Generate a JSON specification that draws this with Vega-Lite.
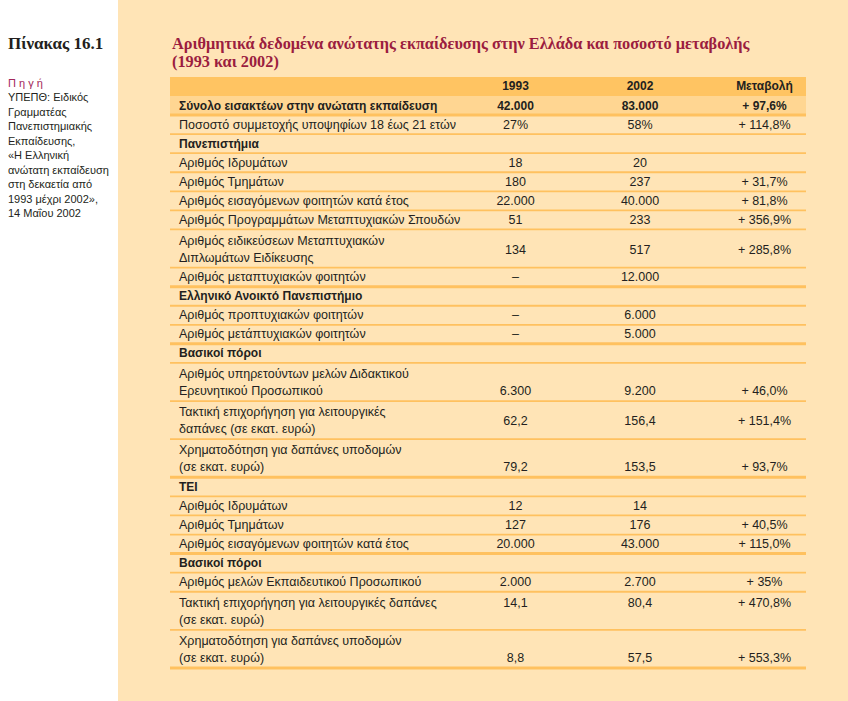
{
  "$schema": "https://vega.github.io/schema/vega-lite/v6.json",
  "width": 848,
  "height": 701,
  "autosize": {"type": "none"},
  "padding": 0,
  "background": "white",
  "config": {"view": {"stroke": null}},
  "resolve": {"scale": {"x": "independent", "y": "independent"}},
  "datasets": {
    "source": [
      {"k": 0, "t": "Π η γ ή"},
      {"k": 1, "t": "ΥΠΕΠΘ: Ειδικός"},
      {"k": 2, "t": "Γραμματέας"},
      {"k": 3, "t": "Πανεπιστημιακής"},
      {"k": 4, "t": "Εκπαίδευσης,"},
      {"k": 5, "t": "«Η Ελληνική"},
      {"k": 6, "t": "ανώτατη εκπαίδευση"},
      {"k": 7, "t": "στη δεκαετία από"},
      {"k": 8, "t": "1993 μέχρι 2002»,"},
      {"k": 9, "t": "14 Μαΐου 2002"}
    ],
    "rows": [
      {"i": 1, "label": "Σύνολο εισακτέων στην ανώτατη εκπαίδευση", "c1993": "42.000", "c2002": "83.000", "chg": "+ 97,6%", "kind": "total", "n": 1, "va": "first", "last": 1},
      {"i": 2, "label": "Ποσοστό συμμετοχής υποψηφίων 18 έως 21 ετών", "c1993": "27%", "c2002": "58%", "chg": "+ 114,8%", "kind": "item", "n": 1, "va": "first", "last": 0},
      {"i": 3, "label": "Πανεπιστήμια", "kind": "section", "n": 1, "va": "first", "last": 0},
      {"i": 4, "label": "Αριθμός Ιδρυμάτων", "c1993": "18", "c2002": "20", "kind": "item", "n": 1, "va": "first", "last": 0},
      {"i": 5, "label": "Αριθμός Τμημάτων", "c1993": "180", "c2002": "237", "chg": "+ 31,7%", "kind": "item", "n": 1, "va": "first", "last": 0},
      {"i": 6, "label": "Αριθμός εισαγόμενων φοιτητών κατά έτος", "c1993": "22.000", "c2002": "40.000", "chg": "+ 81,8%", "kind": "item", "n": 1, "va": "first", "last": 0},
      {"i": 7, "label": "Αριθμός Προγραμμάτων Μεταπτυχιακών Σπουδών", "c1993": "51", "c2002": "233", "chg": "+ 356,9%", "kind": "item", "n": 1, "va": "first", "last": 0},
      {"i": 8, "label": "Αριθμός ειδικεύσεων Μεταπτυχιακών", "label2": "Διπλωμάτων Ειδίκευσης", "c1993": "134", "c2002": "517", "chg": "+ 285,8%", "kind": "item", "n": 2, "va": "mid", "last": 0},
      {"i": 9, "label": "Αριθμός μεταπτυχιακών φοιτητών", "c1993": "–", "c2002": "12.000", "kind": "item", "n": 1, "va": "first", "last": 1},
      {"i": 10, "label": "Ελληνικό Ανοικτό Πανεπιστήμιο", "kind": "section", "n": 1, "va": "first", "last": 0},
      {"i": 11, "label": "Αριθμός προπτυχιακών φοιτητών", "c1993": "–", "c2002": "6.000", "kind": "item", "n": 1, "va": "first", "last": 0},
      {"i": 12, "label": "Αριθμός μετάπτυχιακών φοιτητών", "c1993": "–", "c2002": "5.000", "kind": "item", "n": 1, "va": "first", "last": 1},
      {"i": 13, "label": "Βασικοί πόροι", "kind": "section", "n": 1, "va": "first", "last": 0},
      {"i": 14, "label": "Αριθμός υπηρετούντων μελών Διδακτικού", "label2": "Ερευνητικού Προσωπικού", "c1993": "6.300", "c2002": "9.200", "chg": "+ 46,0%", "kind": "item", "n": 2, "va": "last", "last": 0},
      {"i": 15, "label": "Τακτική επιχορήγηση για λειτουργικές", "label2": "δαπάνες (σε εκατ. ευρώ)", "c1993": "62,2", "c2002": "156,4", "chg": "+ 151,4%", "kind": "item", "n": 2, "va": "mid", "last": 0},
      {"i": 16, "label": "Χρηματοδότηση για δαπάνες υποδομών", "label2": "(σε εκατ. ευρώ)", "c1993": "79,2", "c2002": "153,5", "chg": "+ 93,7%", "kind": "item", "n": 2, "va": "last", "last": 1},
      {"i": 17, "label": "ΤΕΙ", "kind": "section", "n": 1, "va": "first", "last": 0},
      {"i": 18, "label": "Αριθμός Ιδρυμάτων", "c1993": "12", "c2002": "14", "kind": "item", "n": 1, "va": "first", "last": 0},
      {"i": 19, "label": "Αριθμός Τμημάτων", "c1993": "127", "c2002": "176", "chg": "+ 40,5%", "kind": "item", "n": 1, "va": "first", "last": 0},
      {"i": 20, "label": "Αριθμός εισαγόμενων φοιτητών κατά έτος", "c1993": "20.000", "c2002": "43.000", "chg": "+ 115,0%", "kind": "item", "n": 1, "va": "first", "last": 1},
      {"i": 21, "label": "Βασικοί πόροι", "kind": "section", "n": 1, "va": "first", "last": 0},
      {"i": 22, "label": "Αριθμός μελών Εκπαιδευτικού Προσωπικού", "c1993": "2.000", "c2002": "2.700", "chg": "+ 35%", "kind": "item", "n": 1, "va": "first", "last": 0},
      {"i": 23, "label": "Τακτική επιχορήγηση για λειτουργικές δαπάνες", "label2": "(σε εκατ. ευρώ)", "c1993": "14,1", "c2002": "80,4", "chg": "+ 470,8%", "kind": "item", "n": 2, "va": "first", "last": 0},
      {"i": 24, "label": "Χρηματοδότηση για δαπάνες υποδομών", "label2": "(σε εκατ. ευρώ)", "c1993": "8,8", "c2002": "57,5", "chg": "+ 553,3%", "kind": "item", "n": 2, "va": "last", "last": 1}
    ]
  },
  "layer": [
    {
      "data": {"values": [{"panel": "table"}]},
      "mark": {"type": "rect", "color": "#ffe4b6"},
      "encoding": {
        "x": {"datum": 0, "type": "quantitative", "axis": null, "scale": {"domain": [0, 1], "range": [118, 848], "zero": false, "nice": false}},
        "x2": {"datum": 1},
        "y": {"datum": 0, "type": "quantitative", "axis": null, "scale": {"domain": [0, 1], "range": [0, 701], "zero": false, "nice": false}},
        "y2": {"datum": 1}
      }
    },
    {
      "data": {"values": [{"t": "Πίνακας 16.1"}]},
      "mark": {"type": "text", "align": "left", "baseline": "middle", "font": "Liberation Serif", "fontWeight": "bold", "fontSize": 17, "color": "#231f20"},
      "encoding": {
        "x": {"datum": 0, "type": "quantitative", "axis": null, "scale": {"domain": [0, 1], "range": [8, 118], "zero": false, "nice": false}},
        "y": {"datum": -2.7, "type": "quantitative", "axis": null, "scale": {"domain": [0, 9], "range": [83.5, 214], "zero": false, "nice": false}},
        "text": {"field": "t"}
      }
    },
    {
      "data": {"name": "source"},
      "transform": [{"filter": "datum.k == 0"}],
      "mark": {"type": "text", "align": "left", "baseline": "middle", "font": "Liberation Sans", "fontSize": 11, "color": "#a3285a"},
      "encoding": {
        "x": {"datum": 0, "type": "quantitative", "axis": null, "scale": {"domain": [0, 1], "range": [8, 118], "zero": false, "nice": false}},
        "y": {"field": "k", "type": "quantitative", "axis": null, "scale": {"domain": [0, 9], "range": [83.5, 214], "zero": false, "nice": false}},
        "text": {"field": "t"}
      }
    },
    {
      "data": {"name": "source"},
      "transform": [{"filter": "datum.k > 0"}],
      "mark": {"type": "text", "align": "left", "baseline": "middle", "font": "Liberation Sans", "fontSize": 11, "color": "#231f20"},
      "encoding": {
        "x": {"datum": 0, "type": "quantitative", "axis": null, "scale": {"domain": [0, 1], "range": [8, 118], "zero": false, "nice": false}},
        "y": {"field": "k", "type": "quantitative", "axis": null, "scale": {"domain": [0, 9], "range": [83.5, 214], "zero": false, "nice": false}},
        "text": {"field": "t"}
      }
    },
    {
      "data": {"values": [{"part": "header"}]},
      "mark": {"type": "rect", "color": "#ffc462"},
      "encoding": {
        "x": {"datum": 0, "type": "quantitative", "axis": null, "scale": {"domain": [0, 1], "range": [170, 806], "zero": false, "nice": false}},
        "x2": {"datum": 1},
        "y": {"datum": -1, "type": "quantitative", "axis": null, "scale": {"domain": [0, 30], "range": [96, 668], "zero": false, "nice": false}},
        "y2": {"datum": 0}
      }
    },
    {
      "data": {"name": "rows"},
      "transform": [
        {"window": [{"op": "sum", "field": "n", "as": "bot"}], "sort": [{"field": "i"}], "frame": [null, 0]},
        {"filter": "datum.kind == 'total'"}
      ],
      "mark": {"type": "rect", "color": "#ffd692"},
      "encoding": {
        "x": {"datum": 0, "type": "quantitative", "axis": null, "scale": {"domain": [0, 1], "range": [170, 806], "zero": false, "nice": false}},
        "x2": {"datum": 1},
        "y": {"field": "bot", "type": "quantitative", "axis": null, "scale": {"domain": [0, 30], "range": [96, 668], "zero": false, "nice": false}},
        "y2": {"datum": 0}
      }
    },
    {
      "data": {"name": "rows"},
      "transform": [
        {"window": [{"op": "sum", "field": "n", "as": "bot"}], "sort": [{"field": "i"}], "frame": [null, 0]},
        {"filter": "datum.last == 0"}
      ],
      "mark": {"type": "rule", "color": "#ffc15f", "strokeWidth": 1.8},
      "encoding": {
        "x": {"datum": 0, "type": "quantitative", "axis": null, "scale": {"domain": [0, 1], "range": [170, 806], "zero": false, "nice": false}},
        "x2": {"datum": 1},
        "y": {"field": "bot", "type": "quantitative", "axis": null, "scale": {"domain": [0, 30], "range": [96, 668], "zero": false, "nice": false}}
      }
    },
    {
      "data": {"name": "rows"},
      "transform": [
        {"window": [{"op": "sum", "field": "n", "as": "bot"}], "sort": [{"field": "i"}], "frame": [null, 0]},
        {"filter": "datum.last == 1"}
      ],
      "mark": {"type": "rule", "color": "#ffc15f", "strokeWidth": 3},
      "encoding": {
        "x": {"datum": 0, "type": "quantitative", "axis": null, "scale": {"domain": [0, 1], "range": [170, 806], "zero": false, "nice": false}},
        "x2": {"datum": 1},
        "y": {"field": "bot", "type": "quantitative", "axis": null, "scale": {"domain": [0, 30], "range": [96, 668], "zero": false, "nice": false}}
      }
    },
    {
      "data": {"values": [{"col": "c1993", "t": "1993"}, {"col": "c2002", "t": "2002"}, {"col": "chg", "t": "Μεταβολή"}]},
      "mark": {"type": "text", "align": "center", "baseline": "middle", "font": "Liberation Sans", "fontWeight": "bold", "fontSize": 12, "color": "#231f20"},
      "encoding": {
        "x": {"field": "col", "type": "nominal", "axis": null, "scale": {"type": "point", "domain": ["label", "c1993", "c2002", "chg"], "range": [391, 764.5], "padding": 0}},
        "y": {"datum": -0.5, "type": "quantitative", "axis": null, "scale": {"domain": [0, 30], "range": [96, 668], "zero": false, "nice": false}},
        "text": {"field": "t"}
      }
    },
    {
      "data": {"values": [{"k": 0, "line": "Αριθμητικά δεδομένα ανώτατης εκπαίδευσης στην Ελλάδα και ποσοστό μεταβολής"}, {"k": 1, "line": "(1993 και 2002)"}]},
      "mark": {"type": "text", "align": "left", "baseline": "middle", "font": "Liberation Serif", "fontWeight": "bold", "fontSize": 16.3, "color": "#9b1d3f"},
      "encoding": {
        "x": {"datum": 0, "type": "quantitative", "axis": null, "scale": {"domain": [0, 1], "range": [172, 848], "zero": false, "nice": false}},
        "y": {"field": "k", "type": "quantitative", "axis": null, "scale": {"domain": [0, 1], "range": [44, 62], "zero": false, "nice": false}},
        "text": {"field": "line"}
      }
    },
    {
      "data": {"name": "rows"},
      "transform": [
        {"window": [{"op": "sum", "field": "n", "as": "bot"}], "sort": [{"field": "i"}], "frame": [null, 0]},
        {"filter": "datum.n == 1 && datum.kind == 'item'"}
      ],
      "mark": {"type": "text", "align": "left", "baseline": "middle", "font": "Liberation Sans", "fontSize": 12.5, "color": "#231f20"},
      "encoding": {
        "x": {"datum": 0, "type": "quantitative", "axis": null, "scale": {"domain": [0, 1], "range": [179, 848], "zero": false, "nice": false}},
        "y": {"field": "bot", "type": "quantitative", "axis": null, "scale": {"domain": [0, 30], "range": [86.5, 658.5], "zero": false, "nice": false}},
        "text": {"field": "label"}
      }
    },
    {
      "data": {"name": "rows"},
      "transform": [
        {"window": [{"op": "sum", "field": "n", "as": "bot"}], "sort": [{"field": "i"}], "frame": [null, 0]},
        {"filter": "datum.kind != 'item'"}
      ],
      "mark": {"type": "text", "align": "left", "baseline": "middle", "font": "Liberation Sans", "fontWeight": "bold", "fontSize": 12, "color": "#231f20"},
      "encoding": {
        "x": {"datum": 0, "type": "quantitative", "axis": null, "scale": {"domain": [0, 1], "range": [179, 848], "zero": false, "nice": false}},
        "y": {"field": "bot", "type": "quantitative", "axis": null, "scale": {"domain": [0, 30], "range": [86.5, 658.5], "zero": false, "nice": false}},
        "text": {"field": "label"}
      }
    },
    {
      "data": {"name": "rows"},
      "transform": [
        {"window": [{"op": "sum", "field": "n", "as": "bot"}], "sort": [{"field": "i"}], "frame": [null, 0]},
        {"filter": "datum.n == 2"}
      ],
      "mark": {"type": "text", "align": "left", "baseline": "middle", "font": "Liberation Sans", "fontSize": 12.5, "color": "#231f20"},
      "encoding": {
        "x": {"datum": 0, "type": "quantitative", "axis": null, "scale": {"domain": [0, 1], "range": [179, 848], "zero": false, "nice": false}},
        "y": {"field": "bot", "type": "quantitative", "axis": null, "scale": {"domain": [0, 30], "range": [69, 641], "zero": false, "nice": false}},
        "text": {"field": "label"}
      }
    },
    {
      "data": {"name": "rows"},
      "transform": [
        {"window": [{"op": "sum", "field": "n", "as": "bot"}], "sort": [{"field": "i"}], "frame": [null, 0]},
        {"filter": "datum.n == 2"}
      ],
      "mark": {"type": "text", "align": "left", "baseline": "middle", "font": "Liberation Sans", "fontSize": 12.5, "color": "#231f20"},
      "encoding": {
        "x": {"datum": 0, "type": "quantitative", "axis": null, "scale": {"domain": [0, 1], "range": [179, 848], "zero": false, "nice": false}},
        "y": {"field": "bot", "type": "quantitative", "axis": null, "scale": {"domain": [0, 30], "range": [86, 658], "zero": false, "nice": false}},
        "text": {"field": "label2"}
      }
    },
    {
      "data": {"name": "rows"},
      "transform": [
        {"window": [{"op": "sum", "field": "n", "as": "bot"}], "sort": [{"field": "i"}], "frame": [null, 0]},
        {"fold": ["c1993", "c2002", "chg"], "as": ["col", "val"]},
        {"filter": "datum.val != null && datum.kind == 'total'"}
      ],
      "mark": {"type": "text", "align": "center", "baseline": "middle", "font": "Liberation Sans", "fontWeight": "bold", "fontSize": 12, "color": "#231f20"},
      "encoding": {
        "x": {"field": "col", "type": "nominal", "axis": null, "scale": {"type": "point", "domain": ["label", "c1993", "c2002", "chg"], "range": [391, 764.5], "padding": 0}},
        "y": {"field": "bot", "type": "quantitative", "axis": null, "scale": {"domain": [0, 30], "range": [86.5, 658.5], "zero": false, "nice": false}},
        "text": {"field": "val"}
      }
    },
    {
      "data": {"name": "rows"},
      "transform": [
        {"window": [{"op": "sum", "field": "n", "as": "bot"}], "sort": [{"field": "i"}], "frame": [null, 0]},
        {"fold": ["c1993", "c2002", "chg"], "as": ["col", "val"]},
        {"filter": "datum.val != null && datum.kind == 'item' && datum.n == 1"}
      ],
      "mark": {"type": "text", "align": "center", "baseline": "middle", "font": "Liberation Sans", "fontSize": 12.5, "color": "#231f20"},
      "encoding": {
        "x": {"field": "col", "type": "nominal", "axis": null, "scale": {"type": "point", "domain": ["label", "c1993", "c2002", "chg"], "range": [391, 764.5], "padding": 0}},
        "y": {"field": "bot", "type": "quantitative", "axis": null, "scale": {"domain": [0, 30], "range": [86.5, 658.5], "zero": false, "nice": false}},
        "text": {"field": "val"}
      }
    },
    {
      "data": {"name": "rows"},
      "transform": [
        {"window": [{"op": "sum", "field": "n", "as": "bot"}], "sort": [{"field": "i"}], "frame": [null, 0]},
        {"fold": ["c1993", "c2002", "chg"], "as": ["col", "val"]},
        {"filter": "datum.val != null && datum.n == 2 && datum.va == 'first'"}
      ],
      "mark": {"type": "text", "align": "center", "baseline": "middle", "font": "Liberation Sans", "fontSize": 12.5, "color": "#231f20"},
      "encoding": {
        "x": {"field": "col", "type": "nominal", "axis": null, "scale": {"type": "point", "domain": ["label", "c1993", "c2002", "chg"], "range": [391, 764.5], "padding": 0}},
        "y": {"field": "bot", "type": "quantitative", "axis": null, "scale": {"domain": [0, 30], "range": [69, 641], "zero": false, "nice": false}},
        "text": {"field": "val"}
      }
    },
    {
      "data": {"name": "rows"},
      "transform": [
        {"window": [{"op": "sum", "field": "n", "as": "bot"}], "sort": [{"field": "i"}], "frame": [null, 0]},
        {"fold": ["c1993", "c2002", "chg"], "as": ["col", "val"]},
        {"filter": "datum.val != null && datum.va == 'mid'"}
      ],
      "mark": {"type": "text", "align": "center", "baseline": "middle", "font": "Liberation Sans", "fontSize": 12.5, "color": "#231f20"},
      "encoding": {
        "x": {"field": "col", "type": "nominal", "axis": null, "scale": {"type": "point", "domain": ["label", "c1993", "c2002", "chg"], "range": [391, 764.5], "padding": 0}},
        "y": {"field": "bot", "type": "quantitative", "axis": null, "scale": {"domain": [0, 30], "range": [78, 650], "zero": false, "nice": false}},
        "text": {"field": "val"}
      }
    },
    {
      "data": {"name": "rows"},
      "transform": [
        {"window": [{"op": "sum", "field": "n", "as": "bot"}], "sort": [{"field": "i"}], "frame": [null, 0]},
        {"fold": ["c1993", "c2002", "chg"], "as": ["col", "val"]},
        {"filter": "datum.val != null && datum.va == 'last'"}
      ],
      "mark": {"type": "text", "align": "center", "baseline": "middle", "font": "Liberation Sans", "fontSize": 12.5, "color": "#231f20"},
      "encoding": {
        "x": {"field": "col", "type": "nominal", "axis": null, "scale": {"type": "point", "domain": ["label", "c1993", "c2002", "chg"], "range": [391, 764.5], "padding": 0}},
        "y": {"field": "bot", "type": "quantitative", "axis": null, "scale": {"domain": [0, 30], "range": [86, 658], "zero": false, "nice": false}},
        "text": {"field": "val"}
      }
    }
  ]
}
